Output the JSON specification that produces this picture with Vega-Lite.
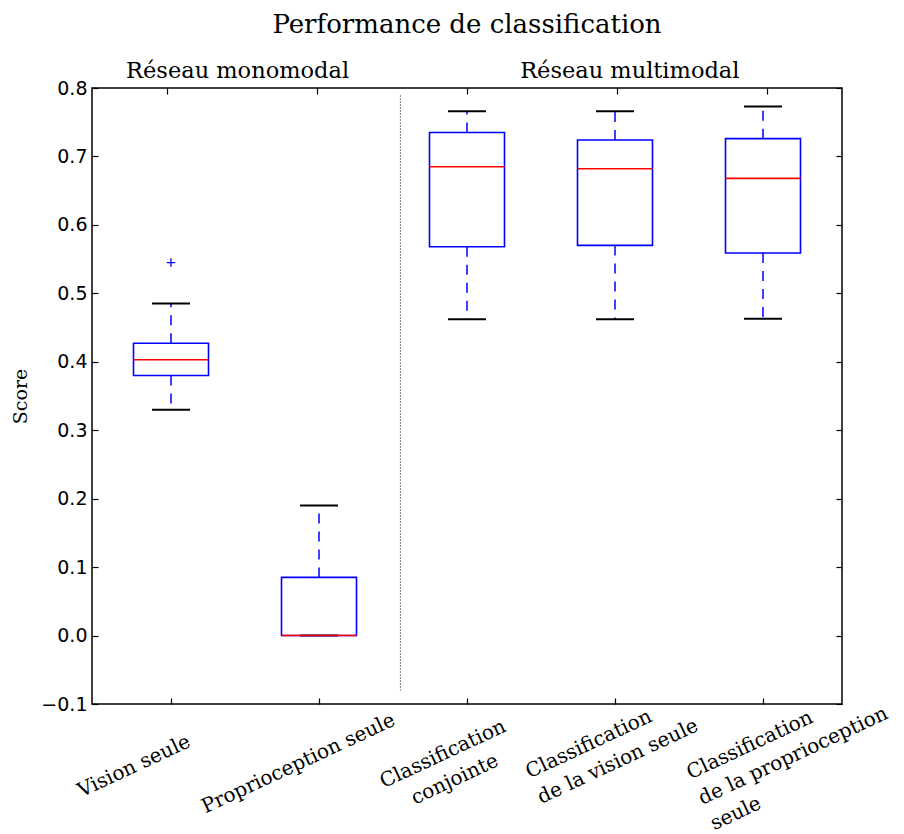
{
  "$schema": "https://vega.github.io/schema/vega-lite/v6.json",
  "width": 750,
  "height": 616,
  "autosize": "none",
  "padding": {"left": 92, "top": 88, "right": 62, "bottom": 130},
  "background": "white",
  "title": {"text": "Performance de classification", "font": "DejaVu Serif", "fontSize": 26, "fontWeight": "normal", "color": "black", "anchor": "middle", "frame": "group", "offset": 22},
  "config": {
    "view": {"stroke": "black", "strokeWidth": 1.5},
    "axis": {"grid": false, "domain": false, "tickColor": "black", "tickWidth": 1.2, "tickSize": -6, "labelColor": "black", "titleColor": "black", "labelLimit": 0}
  },
  "datasets": {
    "stats": [
      {"group": "Vision seule", "pos": 1, "lo": 0.330, "q1": 0.380, "med": 0.403, "q3": 0.427, "hi": 0.485},
      {"group": "Proprioception seule", "pos": 2, "lo": 0.0, "q1": 0.0, "med": 0.0, "q3": 0.085, "hi": 0.190},
      {"group": "Classification conjointe", "pos": 3, "lo": 0.462, "q1": 0.568, "med": 0.685, "q3": 0.735, "hi": 0.766},
      {"group": "Classification de la vision seule", "pos": 4, "lo": 0.462, "q1": 0.570, "med": 0.682, "q3": 0.724, "hi": 0.766},
      {"group": "Classification de la proprioception seule", "pos": 5, "lo": 0.463, "q1": 0.559, "med": 0.668, "q3": 0.726, "hi": 0.773}
    ],
    "outliers": [{"pos": 1, "value": 0.545}],
    "divider": [{"x": 2.55, "top": 0.789, "bottom": -0.080}],
    "headers": [
      {"x": 1.45, "y": 0.815, "text": "Réseau monomodal"},
      {"x": 4.1, "y": 0.815, "text": "Réseau multimodal"}
    ]
  },
  "resolve": {"scale": {"x": "independent", "y": "independent"}},
  "layer": [
    {
      "layer": [
        {
          "data": {"name": "stats"},
          "mark": {"type": "rule", "color": "#0000ff", "strokeWidth": 1.5, "strokeDash": [10, 8]},
          "encoding": {
            "x": {"field": "pos", "type": "quantitative", "scale": {"domain": [0.5, 5.5], "nice": false, "zero": false},
              "axis": {"values": [1, 2, 3, 4, 5], "title": null, "labelAngle": -25,
                "labelAlign": {"condition": {"test": "datum.value == 3", "value": "center"}, "value": "left"},
                "labelBaseline": "alphabetic",
                "labelFont": "DejaVu Serif", "labelFontSize": 20, "labelLineHeight": 28, "labelLimit": 0,
                "labelPadding": {"condition": [{"test": "datum.value == 1", "value": 99}, {"test": "datum.value == 2", "value": 115}, {"test": "datum.value == 3", "value": 61}, {"test": "datum.value == 4", "value": 80}], "value": 81},
                "labelOffset": {"condition": [{"test": "datum.value == 1", "value": -90}, {"test": "datum.value == 2", "value": -114}, {"test": "datum.value == 3", "value": -22}, {"test": "datum.value == 4", "value": -86}], "value": -73},
                "labelOverlap": false, "labelFlush": false, "labelBound": false,
                "labelExpr": "datum.value == 1 ? 'Vision seule' : datum.value == 2 ? 'Proprioception seule' : datum.value == 3 ? ['Classification', 'conjointe'] : datum.value == 4 ? ['Classification', 'de la vision seule'] : ['Classification', 'de la proprioception', 'seule']"}},
            "y": {"field": "q1", "type": "quantitative", "scale": {"domain": [-0.1, 0.8], "nice": false, "zero": false},
              "axis": {"values": [-0.1, 0, 0.1, 0.2, 0.3, 0.4, 0.5, 0.6, 0.7, 0.8], "format": ".1f", "labelFont": "DejaVu Sans", "labelFontSize": 19, "labelPadding": 11,
                "title": "Score", "titleFont": "DejaVu Serif", "titleFontSize": 19, "titleFontWeight": "normal", "titleAngle": -90, "titleX": -72, "titleY": 308, "titleAlign": "center", "titleBaseline": "middle"}},
            "y2": {"field": "lo"}
          }
        },
        {
          "data": {"name": "stats"},
          "mark": {"type": "rule", "color": "#0000ff", "strokeWidth": 1.5, "strokeDash": [10, 8]},
          "encoding": {
            "x": {"field": "pos", "type": "quantitative"},
            "y": {"field": "q3", "type": "quantitative"},
            "y2": {"field": "hi"}
          }
        },
        {
          "data": {"name": "stats"},
          "mark": {"type": "tick", "orient": "horizontal", "color": "black", "size": 38, "thickness": 2, "opacity": 1},
          "encoding": {
            "x": {"field": "pos", "type": "quantitative"},
            "y": {"field": "lo", "type": "quantitative"}
          }
        },
        {
          "data": {"name": "stats"},
          "mark": {"type": "tick", "orient": "horizontal", "color": "black", "size": 38, "thickness": 2, "opacity": 1},
          "encoding": {
            "x": {"field": "pos", "type": "quantitative"},
            "y": {"field": "hi", "type": "quantitative"}
          }
        },
        {
          "data": {"name": "stats"},
          "mark": {"type": "bar", "width": 75, "fill": "white", "fillOpacity": 0, "stroke": "#0000ff", "strokeWidth": 1.6},
          "encoding": {
            "x": {"field": "pos", "type": "quantitative"},
            "y": {"field": "q1", "type": "quantitative"},
            "y2": {"field": "q3"}
          }
        },
        {
          "data": {"name": "stats"},
          "mark": {"type": "tick", "orient": "horizontal", "color": "#ff0000", "size": 75, "thickness": 1.6, "opacity": 1},
          "encoding": {
            "x": {"field": "pos", "type": "quantitative"},
            "y": {"field": "med", "type": "quantitative"}
          }
        },
        {
          "data": {"name": "outliers"},
          "mark": {"type": "point", "shape": "M-1,0H1M0,-1V1", "filled": false, "color": "#0000ff", "size": 70, "strokeWidth": 1.3, "opacity": 1},
          "encoding": {
            "x": {"field": "pos", "type": "quantitative"},
            "y": {"field": "value", "type": "quantitative"}
          }
        },
        {
          "data": {"name": "divider"},
          "mark": {"type": "rule", "color": "black", "strokeWidth": 1, "strokeDash": [1, 2]},
          "encoding": {
            "x": {"field": "x", "type": "quantitative"},
            "y": {"field": "top", "type": "quantitative"},
            "y2": {"field": "bottom"}
          }
        },
        {
          "data": {"name": "headers"},
          "mark": {"type": "text", "font": "DejaVu Serif", "fontSize": 22.5, "color": "black", "align": "center", "baseline": "alphabetic"},
          "encoding": {
            "x": {"field": "x", "type": "quantitative"},
            "y": {"field": "y", "type": "quantitative"},
            "text": {"field": "text"}
          }
        }
      ]
    },
    {
      "data": {"name": "stats"},
      "mark": {"type": "point", "opacity": 0},
      "encoding": {
        "x": {"field": "pos", "type": "quantitative", "scale": {"domain": [0.5, 5.5], "nice": false, "zero": false},
          "axis": {"orient": "top", "values": [1, 2, 3, 4, 5], "labels": false, "title": null}},
        "y": {"field": "med", "type": "quantitative", "scale": {"domain": [-0.1, 0.8], "nice": false, "zero": false},
          "axis": {"orient": "right", "values": [-0.1, 0, 0.1, 0.2, 0.3, 0.4, 0.5, 0.6, 0.7, 0.8], "labels": false, "title": null}}
      }
    }
  ]
}
